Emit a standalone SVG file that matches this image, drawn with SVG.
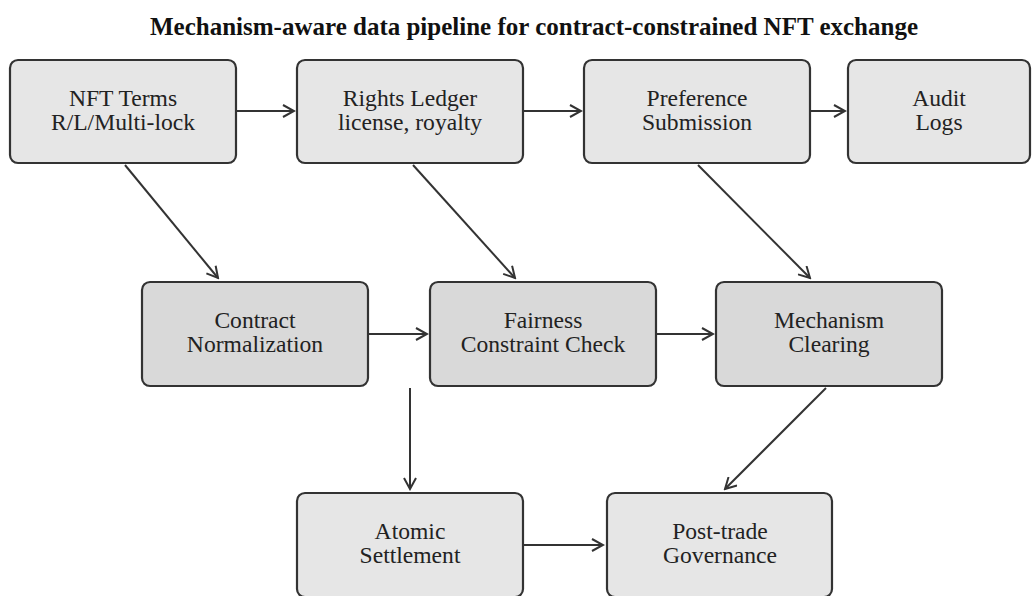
<svg xmlns="http://www.w3.org/2000/svg" width="1034" height="596" viewBox="0 0 1034 596">
<style>
.n rect{stroke:#333;stroke-width:2.2}
.l rect{fill:#e6e6e6}
.d rect{fill:#d9d9d9}
text{font-family:"Liberation Serif","Times New Roman",serif;font-size:23.6px;fill:#222;text-anchor:middle}
.t{font-weight:bold;font-size:25px;fill:#111}
.c line{stroke:#333;stroke-width:2;marker-end:url(#a)}
</style>
<defs>
<marker id="a" markerWidth="14" markerHeight="14" refX="12" refY="7" orient="auto" markerUnits="userSpaceOnUse">
<path d="M1,1 L12,7 L1,13" fill="none" stroke="#333" stroke-width="2"/>
</marker>
</defs>
<rect width="1034" height="596" fill="#fff"/>
<text class="t" x="534" y="35">Mechanism-aware data pipeline for contract-constrained NFT exchange</text>
<g class="c">
<line x1="236" y1="111" x2="294" y2="111"/>
<line x1="523" y1="111" x2="581" y2="111"/>
<line x1="810" y1="111" x2="845" y2="111"/>
<line x1="125" y1="165" x2="218" y2="278"/>
<line x1="413" y1="165" x2="515" y2="278"/>
<line x1="698" y1="165" x2="810" y2="278"/>
<line x1="368" y1="334" x2="427" y2="334"/>
<line x1="656" y1="334" x2="713" y2="334"/>
<line x1="410" y1="388" x2="410" y2="489"/>
<line x1="826" y1="388" x2="725" y2="489"/>
<line x1="523" y1="545" x2="603" y2="545"/>
</g>
<g id="nft" class="n l"><rect x="10" y="60" width="226" height="103" rx="8"/><text x="123" y="106">NFT Terms</text><text x="123" y="130">R/L/Multi-lock</text></g>
<g id="rights" class="n l"><rect x="297" y="60" width="226" height="103" rx="8"/><text x="410" y="106">Rights Ledger</text><text x="410" y="130">license, royalty</text></g>
<g id="pref" class="n l"><rect x="584" y="60" width="226" height="103" rx="8"/><text x="697" y="106">Preference</text><text x="697" y="130">Submission</text></g>
<g id="audit" class="n l"><rect x="848" y="60" width="182" height="103" rx="8"/><text x="939" y="106">Audit</text><text x="939" y="130">Logs</text></g>
<g id="contract" class="n d"><rect x="142" y="282" width="226" height="104" rx="8"/><text x="255" y="328">Contract</text><text x="255" y="352">Normalization</text></g>
<g id="fair" class="n d"><rect x="430" y="282" width="226" height="104" rx="8"/><text x="543" y="328">Fairness</text><text x="543" y="352">Constraint Check</text></g>
<g id="mech" class="n d"><rect x="716" y="282" width="226" height="104" rx="8"/><text x="829" y="328">Mechanism</text><text x="829" y="352">Clearing</text></g>
<g id="atomic" class="n l"><rect x="297" y="493" width="226" height="104" rx="8"/><text x="410" y="539">Atomic</text><text x="410" y="563">Settlement</text></g>
<g id="post" class="n l"><rect x="607" y="493" width="225" height="104" rx="8"/><text x="720" y="539">Post-trade</text><text x="720" y="563">Governance</text></g>
</svg>
